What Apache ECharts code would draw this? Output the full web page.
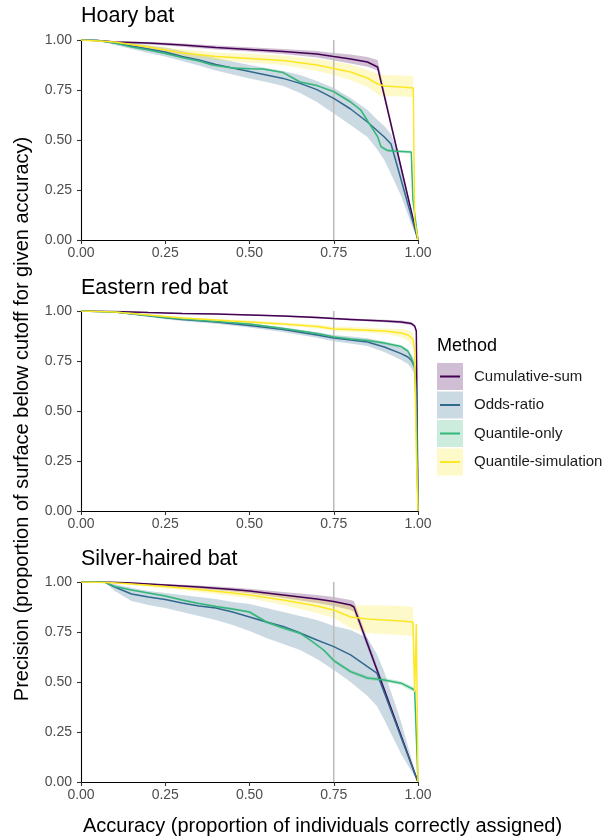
<!DOCTYPE html>
<html>
<head>
<meta charset="utf-8">
<script src="https://cdn.jsdelivr.net/npm/echarts@6/dist/echarts.min.js"></script>
<style>html,body{margin:0;padding:0;background:#fff;}#c{width:607px;height:839px;}</style>
</head>
<body>
<div id="c"></div>
<script>
// ---- data: rows are [accuracy, precision, lower, upper] ----
const methods = ['Cumulative-sum', 'Odds-ratio', 'Quantile-only', 'Quantile-simulation'];
const panelTitles = ['Hoary bat', 'Eastern red bat', 'Silver-haired bat'];
const xTicks = [0, 0.25, 0.5, 0.75, 1];
const yTicks = [0, 0.25, 0.5, 0.75, 1];
const cutoff = 0.75;

const hoaryCumSum = [[0,1,1,1],[0.05,0.998,0.997,1],[0.1,0.99,0.985,0.995],[0.2,0.985,0.978,0.99],[0.25,0.98,0.972,0.987],[0.3,0.975,0.966,0.983],[0.4,0.962,0.952,0.972],[0.5,0.953,0.942,0.964],[0.6,0.943,0.93,0.955],[0.7,0.93,0.912,0.945],[0.75,0.917,0.897,0.935],[0.8,0.905,0.882,0.928],[0.85,0.89,0.866,0.915],[0.88,0.865,0.848,0.9],[1,0,0,0]];
const hoaryOdds = [[0,1,1,1],[0.05,0.998,0.995,1],[0.1,0.985,0.975,0.993],[0.15,0.97,0.955,0.982],[0.2,0.955,0.935,0.972],[0.25,0.94,0.918,0.962],[0.3,0.918,0.895,0.945],[0.35,0.9,0.872,0.928],[0.4,0.878,0.848,0.91],[0.45,0.86,0.828,0.892],[0.5,0.842,0.808,0.875],[0.55,0.825,0.79,0.86],[0.6,0.808,0.77,0.845],[0.65,0.783,0.735,0.825],[0.7,0.752,0.69,0.795],[0.75,0.708,0.633,0.76],[0.8,0.655,0.575,0.71],[0.85,0.59,0.515,0.65],[0.88,0.545,0.45,0.6],[0.9,0.515,0.4,0.57],[0.92,0.48,0.33,0.53],[0.95,0.3,0.22,0.38],[0.98,0.12,0.08,0.16],[1,0,0,0.02]];
const hoaryQOnly = [[0,1,1,1],[0.05,0.997,0.996,0.998],[0.1,0.985,0.983,0.987],[0.15,0.965,0.962,0.968],[0.2,0.95,0.947,0.953],[0.25,0.933,0.929,0.937],[0.3,0.912,0.908,0.916],[0.35,0.895,0.891,0.899],[0.39,0.875,0.871,0.879],[0.45,0.86,0.856,0.864],[0.5,0.856,0.852,0.86],[0.54,0.855,0.851,0.859],[0.6,0.837,0.832,0.842],[0.65,0.79,0.785,0.795],[0.7,0.772,0.767,0.777],[0.75,0.742,0.736,0.748],[0.8,0.69,0.684,0.696],[0.83,0.65,0.644,0.656],[0.86,0.57,0.563,0.577],[0.88,0.517,0.51,0.524],[0.89,0.467,0.46,0.474],[0.91,0.447,0.44,0.454],[0.95,0.443,0.436,0.45],[0.98,0.44,0.432,0.448],[0.985,0.2,0.19,0.21],[1,0,0,0]];
const hoaryQSim = [[0,1,1,1],[0.1,0.99,0.985,0.995],[0.2,0.965,0.955,0.975],[0.25,0.95,0.935,0.963],[0.3,0.935,0.92,0.952],[0.4,0.918,0.9,0.938],[0.5,0.908,0.888,0.93],[0.6,0.898,0.875,0.922],[0.7,0.875,0.845,0.905],[0.75,0.858,0.825,0.893],[0.8,0.84,0.8,0.878],[0.85,0.81,0.765,0.85],[0.88,0.78,0.73,0.83],[0.9,0.77,0.72,0.825],[0.95,0.765,0.717,0.822],[0.986,0.76,0.715,0.82],[0.99,0.1,0.08,0.12],[1,0,0,0]];

const redCumSum = [[0,1,1,1],[0.1,0.998,0.997,1],[0.2,0.992,0.99,0.995],[0.3,0.988,0.985,0.991],[0.4,0.985,0.982,0.988],[0.5,0.98,0.977,0.984],[0.6,0.975,0.971,0.979],[0.7,0.967,0.963,0.972],[0.75,0.962,0.958,0.967],[0.8,0.958,0.953,0.963],[0.9,0.95,0.944,0.956],[0.95,0.945,0.938,0.952],[0.98,0.937,0.93,0.945],[0.99,0.925,0.915,0.935],[0.995,0.9,0.89,0.91],[1,0,0,0]];
const redOdds = [[0,1,1,1],[0.1,0.995,0.992,0.997],[0.2,0.976,0.97,0.982],[0.25,0.966,0.959,0.973],[0.3,0.958,0.95,0.966],[0.4,0.945,0.936,0.954],[0.5,0.928,0.918,0.938],[0.6,0.907,0.895,0.919],[0.7,0.88,0.866,0.894],[0.75,0.865,0.849,0.88],[0.8,0.855,0.837,0.872],[0.85,0.845,0.825,0.864],[0.9,0.82,0.795,0.845],[0.95,0.787,0.755,0.815],[0.97,0.77,0.735,0.8],[0.98,0.754,0.715,0.785],[0.99,0.72,0.68,0.75],[0.995,0.6,0.55,0.65],[1,0,0,0]];
const redQOnly = [[0,1,1,1],[0.1,0.995,0.994,0.996],[0.2,0.978,0.976,0.98],[0.25,0.968,0.966,0.97],[0.3,0.96,0.957,0.963],[0.4,0.948,0.945,0.951],[0.5,0.935,0.931,0.939],[0.6,0.912,0.908,0.916],[0.7,0.888,0.883,0.893],[0.75,0.87,0.865,0.875],[0.8,0.86,0.855,0.865],[0.85,0.853,0.847,0.859],[0.9,0.84,0.833,0.847],[0.95,0.822,0.814,0.83],[0.97,0.8,0.79,0.81],[0.98,0.765,0.753,0.777],[0.99,0.72,0.7,0.74],[0.995,0.5,0.47,0.53],[1,0,0,0]];
const redQSim = [[0,1,1,1],[0.1,0.995,0.993,0.997],[0.2,0.98,0.976,0.984],[0.25,0.972,0.967,0.977],[0.3,0.965,0.96,0.97],[0.4,0.955,0.949,0.961],[0.5,0.945,0.938,0.952],[0.6,0.935,0.927,0.943],[0.7,0.922,0.912,0.932],[0.75,0.91,0.9,0.922],[0.8,0.908,0.896,0.92],[0.9,0.9,0.886,0.914],[0.95,0.89,0.87,0.91],[0.97,0.88,0.85,0.905],[0.985,0.86,0.82,0.89],[0.99,0.8,0.76,0.84],[0.995,0.3,0.2,0.4],[1,0,0,0]];

const silverCumSum = [[0,1,1,1],[0.08,1,1,1],[0.15,0.995,0.99,0.998],[0.25,0.985,0.978,0.99],[0.35,0.975,0.966,0.983],[0.45,0.962,0.952,0.972],[0.5,0.955,0.944,0.966],[0.6,0.935,0.92,0.95],[0.7,0.915,0.895,0.935],[0.75,0.903,0.88,0.925],[0.8,0.885,0.86,0.91],[0.81,0.875,0.85,0.905],[1,0,0,0]];
const silverOdds = [[0,1,1,1],[0.07,1,1,1],[0.1,0.975,0.955,0.99],[0.15,0.94,0.905,0.97],[0.2,0.925,0.885,0.955],[0.25,0.912,0.87,0.945],[0.3,0.895,0.85,0.935],[0.35,0.88,0.83,0.925],[0.4,0.87,0.81,0.915],[0.45,0.85,0.785,0.9],[0.5,0.825,0.755,0.89],[0.55,0.8,0.72,0.87],[0.6,0.778,0.69,0.85],[0.65,0.745,0.66,0.83],[0.7,0.71,0.615,0.81],[0.75,0.677,0.56,0.78],[0.8,0.636,0.5,0.76],[0.85,0.577,0.43,0.72],[0.878,0.544,0.38,0.64],[0.9,0.446,0.31,0.55],[0.95,0.223,0.14,0.3],[1,0,0,0]];
const silverQOnly = [[0,1,1,1],[0.07,1,1,1],[0.1,0.978,0.975,0.981],[0.15,0.96,0.956,0.964],[0.2,0.945,0.941,0.949],[0.25,0.93,0.925,0.935],[0.3,0.91,0.905,0.915],[0.35,0.893,0.888,0.898],[0.4,0.878,0.872,0.884],[0.45,0.865,0.859,0.871],[0.5,0.85,0.844,0.856],[0.55,0.8,0.793,0.807],[0.6,0.77,0.763,0.777],[0.65,0.744,0.736,0.752],[0.68,0.71,0.702,0.718],[0.72,0.66,0.652,0.668],[0.75,0.607,0.598,0.616],[0.8,0.552,0.543,0.561],[0.85,0.52,0.511,0.529],[0.9,0.51,0.5,0.52],[0.95,0.494,0.484,0.504],[0.99,0.46,0.448,0.472],[1,0,0,0]];
const silverQSim = [[0,1,1,1],[0.08,0.998,0.997,1],[0.15,0.99,0.985,0.995],[0.25,0.977,0.968,0.985],[0.35,0.962,0.95,0.973],[0.45,0.945,0.93,0.96],[0.5,0.935,0.918,0.952],[0.6,0.91,0.885,0.935],[0.7,0.88,0.845,0.91],[0.75,0.86,0.82,0.9],[0.8,0.825,0.77,0.885],[0.85,0.815,0.745,0.883],[0.9,0.81,0.74,0.882],[0.95,0.805,0.735,0.88],[0.985,0.8,0.73,0.875],[0.99,0.45,0.42,0.48],[0.995,0.79,0.75,0.8],[1,0,0,0]];

const panelData = [
  [hoaryCumSum, hoaryOdds, hoaryQOnly, hoaryQSim],
  [redCumSum, redOdds, redQOnly, redQSim],
  [silverCumSum, silverOdds, silverQOnly, silverQSim]
];

// ---- styling ----
const colors = ['#440154', '#31688E', '#35B779', '#FDE725'];
const fills = ['rgba(68,1,84,0.25)', 'rgba(49,104,142,0.25)', 'rgba(53,183,121,0.25)', 'rgba(253,231,37,0.25)'];
const FONT = "'Liberation Sans', Arial, Helvetica, sans-serif";
const gridTops = [40, 311, 582];
const titleTops = [5, 277, 548];
const GL = 81, GW = 337, GH = 200;

const chart = echarts.init(document.getElementById('c'), null, {renderer: 'canvas'});

const grids = [], xAxes = [], yAxes = [], titles = [], series = [];
gridTops.forEach((t, gi) => {
  grids.push({left: GL, top: t, width: GW, height: GH, containLabel: false});
  titles.push({text: panelTitles[gi], left: GL, top: titleTops[gi], padding: 0,
    textStyle: {fontFamily: FONT, fontSize: 21.5, fontWeight: 'normal', color: '#000'}});
  const axisCommon = {
    type: 'value', min: 0, max: 1, interval: 0.25, gridIndex: gi,
    axisLine: {show: true, onZero: false, lineStyle: {color: '#000', width: 1.1}},
    axisTick: {show: true, length: 4, lineStyle: {color: '#333', width: 1.1}},
    splitLine: {show: false},
    axisLabel: {fontFamily: FONT, fontSize: 14, color: '#4d4d4d', formatter: v => v.toFixed(2)}
  };
  xAxes.push(Object.assign({}, axisCommon, {axisLabel: Object.assign({}, axisCommon.axisLabel, {margin: 6})}));
  yAxes.push(Object.assign({}, axisCommon, {axisLabel: Object.assign({}, axisCommon.axisLabel, {margin: 9})}));

  const rowsList = panelData[gi];
  // ribbons
  rowsList.forEach((rows, mi) => {
    series.push({
      type: 'custom', xAxisIndex: gi, yAxisIndex: gi, z: 1, silent: true, animation: false,
      data: rows.map(r => [r[0], r[2], r[3]]),
      encode: {x: 0, y: [1, 2]},
      renderItem: function (params, api) {
        if (params.dataIndex !== 0) return null;
        const pts = [];
        rows.forEach(r => pts.push(api.coord([r[0], r[3]])));
        for (let i = rows.length - 1; i >= 0; i--) pts.push(api.coord([rows[i][0], rows[i][2]]));
        return {type: 'polygon', shape: {points: pts}, style: {fill: fills[mi], stroke: null}};
      }
    });
  });
  // cutoff line
  series.push({
    type: 'line', xAxisIndex: gi, yAxisIndex: gi, z: 2, silent: true, animation: false,
    symbol: 'none', data: [[cutoff, 0], [cutoff, 1]],
    lineStyle: {color: '#bdbdbd', width: 1.6}
  });
  // lines
  rowsList.forEach((rows, mi) => {
    series.push({
      type: 'line', name: methods[mi], xAxisIndex: gi, yAxisIndex: gi, z: 3, silent: true, animation: false,
      symbol: 'none', data: rows.map(r => [r[0], r[1]]),
      lineStyle: {color: colors[mi], width: 1.5}, itemStyle: {color: colors[mi]}
    });
  });
});

// legend (ggplot style) and axis titles
const graphics = [];
graphics.push({type: 'text', x: 437, y: 346, silent: true,
  style: {text: 'Method', font: '18px ' + FONT, fill: '#000', textAlign: 'left', textVerticalAlign: 'middle', align: 'left', verticalAlign: 'middle'}});
const legendY = [376.5, 405, 433.5, 462];
methods.forEach((m, i) => {
  graphics.push({type: 'rect', silent: true, shape: {x: 437, y: legendY[i] - 13.5, width: 26, height: 27}, style: {fill: fills[i]}});
  graphics.push({type: 'line', silent: true, shape: {x1: 440, y1: legendY[i], x2: 460, y2: legendY[i]}, style: {stroke: colors[i], lineWidth: 2}});
  graphics.push({type: 'text', x: 474, y: legendY[i], silent: true,
    style: {text: m, font: '15px ' + FONT, fill: '#1a1a1a', textAlign: 'left', textVerticalAlign: 'middle', align: 'left', verticalAlign: 'middle'}});
});
graphics.push({type: 'text', x: 83, y: 826, silent: true,
  style: {text: 'Accuracy (proportion of individuals correctly assigned)', font: '20px ' + FONT, fill: '#000', textAlign: 'left', textVerticalAlign: 'middle', align: 'left', verticalAlign: 'middle'}});
graphics.push({type: 'text', x: 22, y: 419, rotation: Math.PI / 2, silent: true,
  style: {text: 'Precision (proportion of surface below cutoff for given accuracy)', font: '20px ' + FONT, fill: '#000', textAlign: 'center', textVerticalAlign: 'middle', align: 'center', verticalAlign: 'middle'}});

chart.setOption({
  animation: false,
  backgroundColor: '#fff',
  title: titles,
  grid: grids,
  xAxis: xAxes,
  yAxis: yAxes,
  series: series,
  graphic: graphics
});
</script>
</body>
</html>
